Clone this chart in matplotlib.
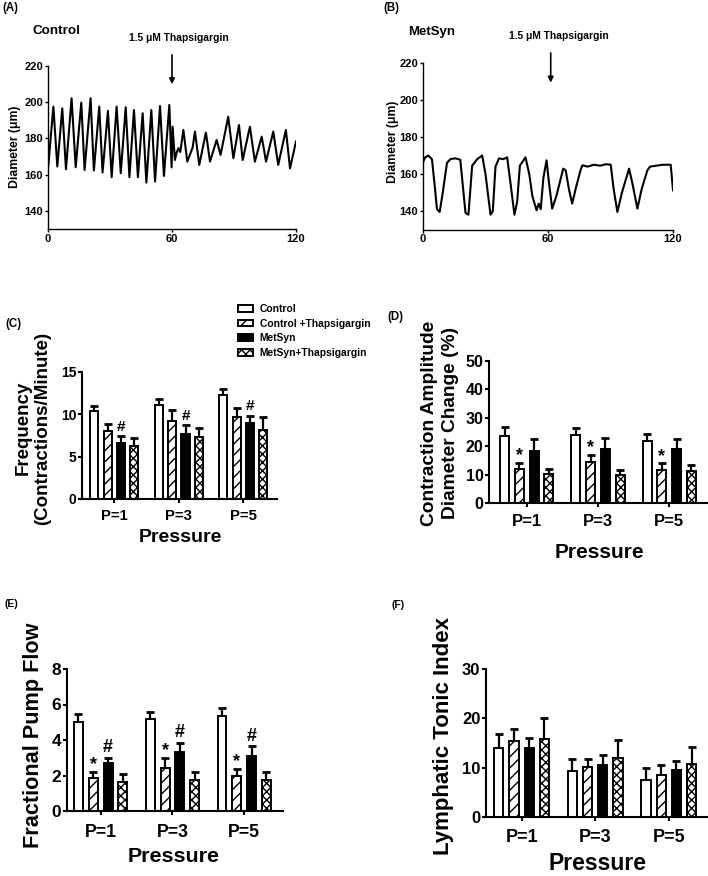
#!/usr/bin/env python3
# Lymphatic contraction traces (A, B) and pump parameters by pressure (C-F).
import numpy as np
import matplotlib
matplotlib.use("Agg")
import matplotlib.pyplot as plt

plt.rcParams["font.family"] = ["Liberation Sans", "DejaVu Sans"]
plt.rcParams["font.weight"] = "bold"
plt.rcParams["hatch.linewidth"] = 1.0

W, H = 708, 876

# --- diameter traces (time s, diameter um) ---
ctrl_t = [0, 2.6, 4.5, 6.9, 8.7, 11.4, 13.4, 16.1, 17.7, 20.6,
          22.2, 24.8, 26.4, 29.0, 30.8, 33.2, 35.2, 37.6, 39.4, 41.6,
          43.5, 45.8, 47.6, 50.0, 51.8, 54.2, 56.1, 58.7, 59.8, 60.3,
          61.4, 62.2, 63.1, 64.0, 65.5, 67.4, 69.0, 70.0, 71.1, 73.2,
          76.4, 78.4, 81.6, 83.5, 87.2, 89.7, 92.4, 94.2, 97.7, 100.1,
          103.4, 105.5, 109.0, 111.4, 115.1, 117.1, 120.0]
ctrl_d = [163, 197.6, 164.5, 196.6, 163.0, 202.2, 164.1, 199.8, 162.6, 202.2,
          162.3, 197.6, 161.2, 195.2, 158.6, 197.6, 160.8, 197.2, 158.6, 195.7,
          158.6, 193.9, 155.6, 195.7, 156.2, 197.9, 159.3, 198.5, 164, 186.5,
          168.1, 172, 174.6, 172.5, 184.7, 167.2, 172, 175, 183.8, 165.4,
          183.2, 167.2, 179.2, 170.9, 192.0, 169.1, 187.4, 168.1, 186.5, 167.2,
          181.0, 167.2, 183.8, 165.4, 184.7, 163.5, 178.3]

met_t = [0, 1.1, 2.5, 4.3, 5.5, 6.7, 8.0, 9.5, 11.5, 13.1,
         15.5, 17.9, 19.0, 20.4, 21.8, 23.6, 26.0, 28.4, 30.0, 32.4,
         33.5, 34.8, 36.5, 38.5, 40.4, 42.0, 43.9, 45.2, 46.5, 49.2,
         51.0, 52.5, 54.5, 55.5, 56.5, 57.8, 59.3, 60.5, 62.0, 64.0,
         67.3, 68.5, 70.0, 71.6, 73.5, 75.6, 76.5, 79, 82, 85,
         88, 90.1, 91.5, 93.3, 95.5, 98.9, 100.5, 102.9, 105, 107.7,
         109.0, 112, 115, 118.9, 120.0]
met_d = [166.5, 169, 170, 168, 155, 141, 139.5, 150, 166, 168,
         168.5, 167.7, 155, 139, 138, 164.5, 168, 170, 160, 138,
         140, 164, 168.5, 168, 169, 155, 138, 145, 164.5, 169,
         160, 148, 140.4, 144, 141, 158, 167.4, 155, 141.3, 148,
         162.9, 162, 152, 144, 153, 162, 164.7, 164, 165, 164.5,
         165.3, 165, 152, 139.5, 150, 162.9, 155, 141.3, 152, 162,
         164, 164.5, 165, 165, 151.2]

# --- bar data: rows = series, columns = pressure ---
groups = ["P=1", "P=3", "P=5"]
series = ["Control", "Control +Thapsigargin", "MetSyn", "MetSyn+Thapsigargin"]

freq_mean = [[10.35, 11.15, 12.25], [8.0, 9.2, 9.65], [6.65, 7.7, 9.0], [6.25, 7.3, 8.2]]
freq_err = [[0.6, 0.7, 0.75], [0.9, 1.3, 1.1], [0.75, 1.0, 0.85], [0.95, 1.1, 1.5]]

amp_mean = [[23.6, 23.9, 22.0], [12.1, 14.3, 11.7], [18.4, 19.0, 19.1], [10.2, 9.8, 11.4]]
amp_err = [[3.3, 2.4, 2.4], [2.0, 2.7, 2.35], [4.1, 3.8, 3.5], [1.7, 1.9, 2.1]]

fpf_mean = [[5.0, 5.2, 5.35], [1.85, 2.4, 2.0], [2.73, 3.3, 3.12], [1.66, 1.76, 1.76]]
fpf_err = [[0.46, 0.38, 0.46], [0.37, 0.6, 0.37], [0.28, 0.55, 0.54], [0.43, 0.46, 0.41]]

tonic_mean = [[13.9, 9.4, 7.5], [15.4, 10.1, 8.5], [13.9, 10.6, 9.5], [15.9, 12.0, 10.8]]
tonic_err = [[3.0, 2.4, 2.5], [2.5, 1.7, 2.1], [2.1, 2.0, 1.9], [4.2, 3.7, 3.4]]

# significance marks: (series index, symbol) shown over every pressure
freq_marks = [(2, "#")]
amp_marks = [(1, "*")]
fpf_marks = [(1, "*"), (2, "#")]
tonic_marks = []

faces = ["white", "white", "black", "white"]
hatches = [None, "///", None, "xxxx"]
offsets = [-0.31, -0.103, 0.103, 0.31]
width = 0.125


def box(l, t, r, b):
    return [l / W, 1 - b / H, (r - l) / W, (b - t) / H]


fig = plt.figure(figsize=(W / 100, H / 100), dpi=100)


def ftext(x, y, s, **kw):
    kw.setdefault("ha", "center")
    kw.setdefault("va", "center")
    fig.text(x / W, 1 - y / H, s, **kw)


def trace_panel(rect, t, d):
    ax = fig.add_axes(box(*rect))
    ax.plot(t, d, color="black", lw=1.5, solid_joinstyle="round")
    ax.set_xlim(0, 120)
    ax.set_ylim(130, 220)
    ax.set_xticks([0, 60, 120])
    ax.set_yticks([140, 160, 180, 200, 220])
    for s in ["top", "right"]:
        ax.spines[s].set_visible(False)
    for s in ["left", "bottom"]:
        ax.spines[s].set_linewidth(1.0)
    ax.tick_params(direction="out", length=2, width=1, labelsize=8, pad=1.5)
    return ax


def bar_panel(rect, xlim, means, errs, marks, ylim, yticks, tsize, gsize, gpad, msize):
    ax = fig.add_axes(box(*rect))
    x = np.arange(len(groups))
    bars = []
    for i, name in enumerate(series):
        xs = x + offsets[i]
        m = np.array(means[i])
        top = m + np.array(errs[i])
        b = ax.bar(xs, m, width, color=faces[i], edgecolor="black", hatch=hatches[i],
                   lw=1.4, label=name, zorder=2)
        bars.append(b)
        ax.vlines(xs, m, top, color="black", lw=1.6, zorder=1)
        ax.plot(xs, top, ls="none", marker="_", ms=6, mew=2, color="black", zorder=1)
    for i, sym in marks:
        for j in range(len(groups)):
            top = means[i][j] + errs[i][j]
            dy = 7 if sym == "#" else 5
            ax.annotate(sym, (x[j] + offsets[i], top), xytext=(0, dy),
                        textcoords="offset points", ha="center", va="center",
                        fontsize=msize)
    ax.set_xlim(*xlim)
    ax.set_ylim(*ylim)
    ax.set_yticks(yticks)
    ax.set_xticks(x)
    ax.set_xticklabels(groups, fontsize=gsize)
    for s in ["top", "right"]:
        ax.spines[s].set_visible(False)
    for s in ["left", "bottom"]:
        ax.spines[s].set_linewidth(1.5)
    ax.tick_params(axis="y", direction="out", length=3, width=1.5, labelsize=tsize, pad=1)
    ax.tick_params(axis="x", direction="out", length=3, width=1.5, pad=gpad)
    return ax, bars


# (A) control trace
axA = trace_panel((48, 66, 296, 229), ctrl_t, ctrl_d)
axA.annotate("", xy=(60, 208.4), xytext=(60, 227.7),
             arrowprops=dict(arrowstyle="-|>", lw=1.2, color="black", mutation_scale=8),
             annotation_clip=False)
ftext(10, 8, "(A)", fontsize=8.3)
ftext(56, 31, "Control", fontsize=9.7)
ftext(179, 38, "1.5 μM Thapsigargin", fontsize=7.4)
ftext(15, 147, "Diameter (μm)", fontsize=8.8, rotation=90)

# (B) MetSyn trace
axB = trace_panel((423, 63, 673, 229.5), met_t, met_d)
axB.annotate("", xy=(61.3, 207.9), xytext=(61.3, 226.9),
             arrowprops=dict(arrowstyle="-|>", lw=1.2, color="black", mutation_scale=8),
             annotation_clip=False)
ftext(391, 8, "(B)", fontsize=8.3)
ftext(432, 32, "MetSyn", fontsize=9.5)
ftext(559, 36, "1.5 μM Thapsigargin", fontsize=7.4)
ftext(393, 142, "Diameter (μm)", fontsize=8.8, rotation=90)

# (C) frequency
axC, barsC = bar_panel((82, 372, 277, 499), (-0.5, 2.52), freq_mean, freq_err, freq_marks,
                       (0, 15), [0, 5, 10, 15], 10, 10.7, 4.1, 11)
ftext(13, 324, "(C)", fontsize=8.3)
ftext(33, 428, "Frequency\n(Contractions/Minute)", fontsize=13.5, rotation=90)
ftext(180, 538, "Pressure", fontsize=14)
fig.legend(handles=barsC, labels=series, loc="upper left",
           bbox_to_anchor=(238 / W, 1 - 304 / H), bbox_transform=fig.transFigure,
           frameon=False, fontsize=7.4, handlelength=1.5, handleheight=0.6,
           labelspacing=0.45, handletextpad=0.6, borderpad=0, borderaxespad=0)

# (D) contraction amplitude
axD, _ = bar_panel((489, 361, 707, 503), (-0.53, 2.53), amp_mean, amp_err, amp_marks,
                   (0, 50), [0, 10, 20, 30, 40, 50], 11.5, 12, 5, 13)
ftext(395, 317, "(D)", fontsize=8.3)
ftext(440, 423, "Contraction Amplitude\nDiameter Change (%)", fontsize=13.8,
      rotation=90, linespacing=1.25)
ftext(599, 553, "Pressure", fontsize=15)

# (E) fractional pump flow
axE, _ = bar_panel((67, 669, 283, 811), (-0.47, 2.54), fpf_mean, fpf_err, fpf_marks,
                   (0, 8), [0, 2, 4, 6, 8], 12.5, 12.7, 6.2, 13)
ftext(11, 604, "(E)", fontsize=7.5)
ftext(34, 735, "Fractional Pump Flow", fontsize=15.6, rotation=90)
ftext(174, 857, "Pressure", fontsize=15.4)

# (F) lymphatic tonic index
axF, _ = bar_panel((486, 669, 707, 817), (-0.485, 2.52), tonic_mean, tonic_err, tonic_marks,
                   (0, 30), [0, 10, 20, 30], 12, 13, 6, 13)
ftext(398, 605, "(F)", fontsize=7.5)
ftext(444, 736, "Lymphatic Tonic Index", fontsize=16, rotation=90)
ftext(598, 863, "Pressure", fontsize=16.5)

fig.savefig("out.png", dpi=100)
